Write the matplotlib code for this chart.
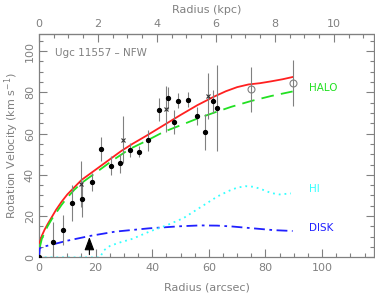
import numpy as np
import matplotlib
matplotlib.use('Agg')
import matplotlib.pyplot as plt
from matplotlib.ticker import MultipleLocator, FixedLocator

# ---------------------------
# Data
# ---------------------------
# filled points
r_obs = [0, 4.8, 8.5, 11.5, 15.3, 18.6, 21.9, 25.3, 28.6, 32.2, 35.4,
         38.6, 42.4, 45.7, 47.7, 49.2, 52.5, 55.7, 58.8, 61.6, 62.8]
v_obs = [0, 7.3, 13.3, 26.2, 28.3, 36.5, 52.4, 44.5, 45.5, 51.9, 51.3,
         56.7, 71.5, 77.2, 65.6, 75.9, 76.5, 68.5, 60.8, 75.6, 72.4]
e_obs = [0, 10, 7.2, 8.8, 8.5, 4.3, 5.7, 4.6, 4.7, 3.3, 2.8,
         5, 5.6, 5.2, 6, 3.6, 3.4, 4.5, 8.7, 5.6, 21]

# cross points
r_x = [14.7, 29.8, 44.9, 59.8]
v_x = [35.5, 57.1, 71.8, 78.2]
e_x = [11.2, 11.3, 11.2, 11.2]

# open circles
r_o = [74.8, 89.6]
v_o = [81.4, 84.4]
e_o = [10.9, 11.2]

# model curves
r_tot = [0.2, 1, 2, 3, 4.5, 6, 8, 10, 12.5, 15, 18, 21.5, 25, 29, 33, 38,
         44, 50, 56, 62, 66, 70, 74, 78, 82, 86, 89.6]
v_tot = [7, 10.5, 13.5, 16, 19.5, 23, 27, 30.5, 34, 37.5, 40.5, 44, 47.5,
         51.5, 55, 59, 64, 69, 73.8, 78, 80.5, 82.5, 83.8, 84.4, 85.3, 86.3, 87.4]

r_halo = [0.3, 1, 2, 3, 4.5, 6, 8, 10, 12.5, 15, 18, 21.5, 26, 32, 38, 44,
          50, 56, 62, 68, 75, 82, 89.6]
v_halo = [5, 9, 12, 15, 18.5, 21.5, 25.5, 29, 32.8, 36, 39, 42.5, 47, 52.5,
          56.5, 60.8, 64, 67.3, 70.2, 73, 75.8, 78.2, 80.4]

r_disk = [0, 0.3, 1, 4, 10, 18, 27, 39, 50, 57, 63, 68, 73, 78, 83, 89.6]
v_disk = [0, 4.4, 5, 6, 8.1, 10.4, 12.5, 14.1, 15.1, 15.5, 15.4, 15, 14.4,
          13.8, 13.2, 12.8]

r_hi = [0, 21.5, 23, 25, 28, 33, 39, 45, 51, 55, 59, 63, 67, 70, 73, 76,
        79, 82, 85, 89]
v_hi = [0, 0, 3.5, 5.5, 7, 9, 12.5, 15.5, 19, 22.5, 26, 29.5, 32.2, 33.8,
        34.5, 34.2, 32.8, 31.2, 30.5, 31]

kpc_ticks = [0, 2, 4, 6, 8, 10]
arcsec_per_kpc = 10.42
gray = '#808080'

# ---------------------------
# Plot
# ---------------------------
plt.rcParams['font.family'] = 'DejaVu Sans'
fig = plt.figure(figsize=(3.75, 3.0), dpi=100)
ax = fig.add_axes([0.104, 0.142, 0.893, 0.743])

ax.plot(r_tot, v_tot, color='#ff2020', lw=1.3, zorder=3)
ax.plot(r_halo, v_halo, color='#22e022', lw=1.3, dashes=(7, 4), zorder=3)
ax.plot(r_disk, v_disk, color='#2020ff', lw=1.3, dashes=(6, 2.5, 1.5, 2.5), zorder=3)
ax.plot(r_hi, v_hi, color='#33ffff', lw=1.3, dashes=(1, 2.2), zorder=3)

ax.errorbar(r_obs, v_obs, yerr=e_obs, fmt='o', ms=2.8, color='black',
            ecolor=gray, elinewidth=0.8, capsize=0, zorder=4)
ax.errorbar(r_x, v_x, yerr=e_x, fmt='x', ms=3.5, mew=0.8, color='#333333',
            ecolor=gray, elinewidth=0.8, capsize=0, zorder=4)
ax.errorbar(r_o, v_o, yerr=e_o, fmt='o', ms=5, mfc='none', mec=gray, mew=0.8,
            ecolor=gray, elinewidth=0.8, capsize=0, zorder=4)

ax.annotate('', xy=(17.8, 11.2), xytext=(17.8, 0),
            arrowprops=dict(arrowstyle='-|>,head_length=0.8,head_width=0.3',
                            color='black', lw=0.8))

ax.text(5.7, 98.8, 'Ugc 11557 \u2013 NFW', color=gray, fontsize=7.5, va='center')
ax.text(95.5, 82, 'HALO', color='#22e022', fontsize=7.5, va='center')
ax.text(95.5, 33, 'HI', color='#33ffff', fontsize=7.5, va='center')
ax.text(95.5, 14.3, 'DISK', color='#2020ff', fontsize=7.5, va='center')

ax.set_xlim(0, 118.3)
ax.set_ylim(0, 108)
ax.xaxis.set_major_locator(MultipleLocator(20))
ax.xaxis.set_minor_locator(MultipleLocator(5))
ax.yaxis.set_major_locator(MultipleLocator(20))
ax.yaxis.set_minor_locator(MultipleLocator(5))

for s in ax.spines.values():
    s.set_color(gray)
    s.set_linewidth(0.9)

ax.tick_params(which='both', direction='in', colors=gray, labelsize=8,
               bottom=True, left=True, right=True, top=False)
ax.tick_params(which='major', length=6, width=0.8)
ax.tick_params(which='minor', length=3, width=0.8)
ax.tick_params(axis='x', pad=4)
ax.tick_params(axis='y', labelrotation=90, pad=3)
for lab in ax.get_yticklabels():
    lab.set_va('center')

ax.set_xlabel('Radius (arcsec)', color=gray, fontsize=8, labelpad=7)
ax.set_ylabel('Rotation Velocity (km s$^{-1}$)', color=gray, fontsize=8, labelpad=3)

top = ax.secondary_xaxis('top', functions=(lambda a: a / arcsec_per_kpc,
                                           lambda k: k * arcsec_per_kpc))
top.xaxis.set_major_locator(FixedLocator(kpc_ticks))
top.xaxis.set_minor_locator(MultipleLocator(0.5))
top.tick_params(which='both', direction='in', colors=gray, labelsize=8, pad=4)
top.tick_params(which='major', length=6, width=0.8)
top.tick_params(which='minor', length=3, width=0.8)
top.spines['top'].set_color(gray)
top.set_xlabel('Radius (kpc)', color=gray, fontsize=8, labelpad=4)

fig.savefig('out.png', dpi=100)
